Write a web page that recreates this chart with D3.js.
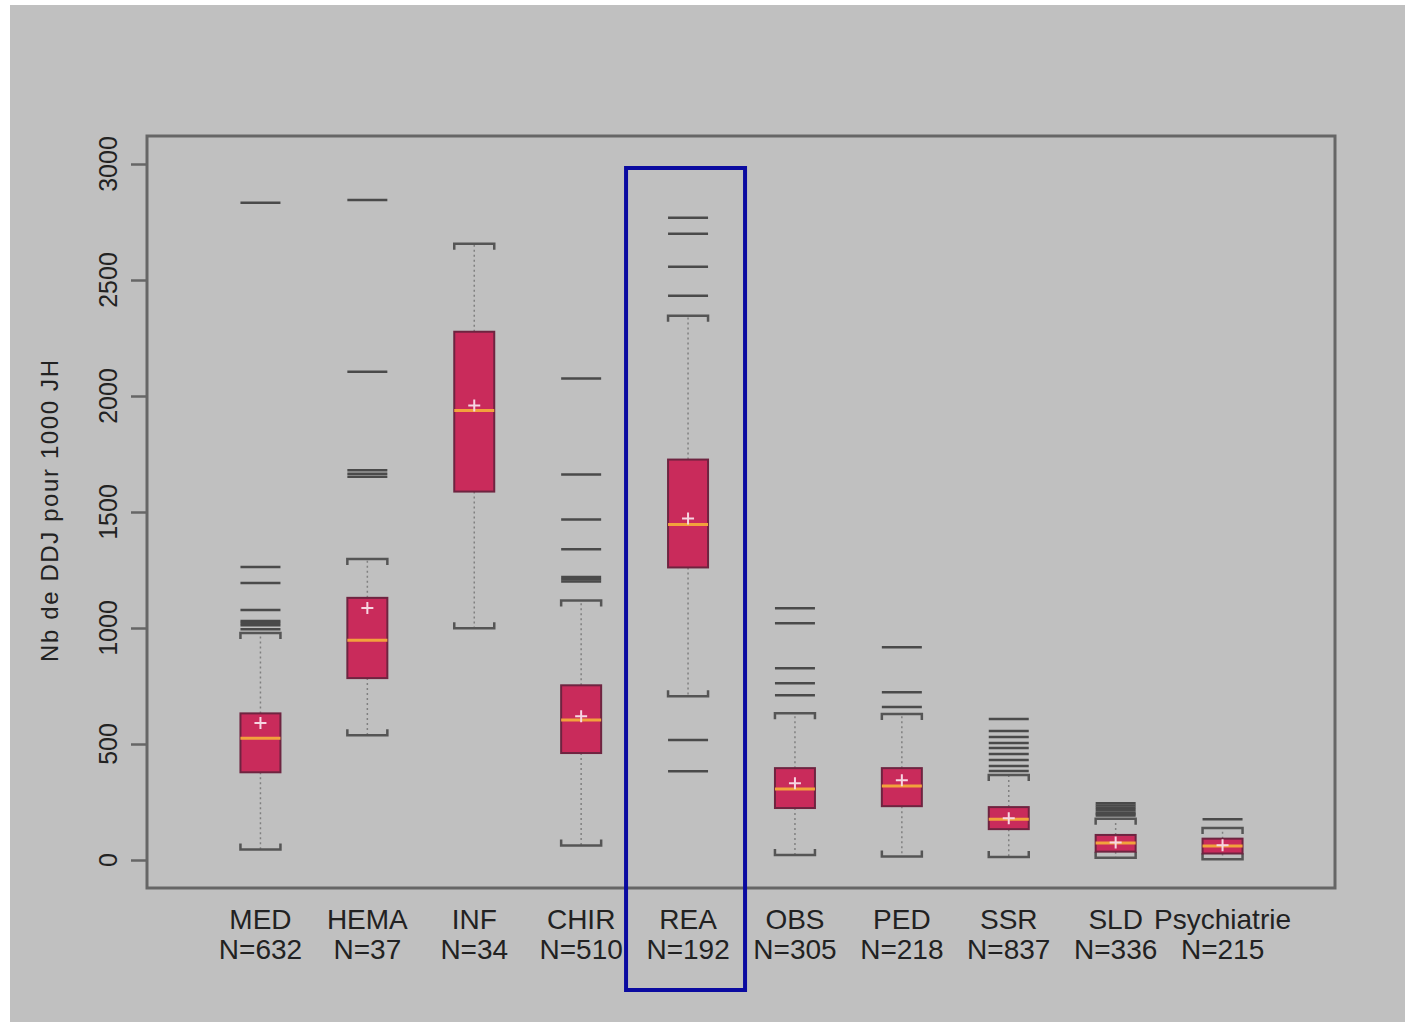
<!DOCTYPE html>
<html>
<head>
<meta charset="utf-8">
<script src="https://cdn.jsdelivr.net/npm/d3@7"></script>
<style>
  html, body { margin: 0; padding: 0; background: #ffffff; }
  svg { display: block; }
  text { font-family: "Liberation Sans", Arial, sans-serif; fill: #222; }
</style>
</head>
<body>
<svg id="chart" width="1405" height="1024"></svg>
<script>
// Antibiotic consumption per unit (DDJ per 1000 JH), one box per unit type
const categories = ["MED", "HEMA", "INF", "CHIR", "REA", "OBS", "PED", "SSR", "SLD", "Psychiatrie"];
const counts     = [632, 37, 34, 510, 192, 305, 218, 837, 336, 215];
const whiskerLow  = [45, 538, 999, 62, 706, 22, 15, 13, 10, 3];
const q1          = [378, 784, 1588, 461, 1261, 224, 232, 133, 36, 28];
const median      = [525, 947, 1937, 603, 1446, 306, 319, 176, 73, 60];
const mean        = [590, 1086, 1959, 620, 1472, 331, 344, 180, 75, 64];
const q3          = [632, 1130, 2277, 753, 1726, 396, 396, 228, 108, 92];
const whiskerHigh = [978, 1297, 2656, 1119, 2346, 633, 629, 366, 178, 138];
const outliers = [
  [2833, 1263, 1194, 1078, 1030, 1022, 1012, 995],
  [2845, 2105, 1680, 1665, 1652],
  [],
  [2075, 1662, 1468, 1339, 1220, 1210, 1200],
  [2768, 2699, 2557, 2432, 517, 383],
  [1085, 1020, 826, 762, 710],
  [917, 723, 659],
  [608, 556, 530, 504, 483, 457, 431, 405, 384],
  [245, 235, 225, 215, 205, 198, 192],
  [176]
];
const yTicks = [0, 500, 1000, 1500, 2000, 2500, 3000];
const yTitle = "Nb de DDJ pour 1000 JH";
const highlighted = "REA";

const svg = d3.select("#chart");

// page background
svg.append("rect").attr("x", 10).attr("y", 5).attr("width", 1395).attr("height", 1017)
  .attr("fill", "#c0c0c0");

const plot = { left: 147, right: 1335, top: 136, bottom: 888 };

const y = d3.scaleLinear().domain([0, 3000]).range([860, 164]);
const x = d3.scaleBand().domain(categories).range([207, 1276]).paddingInner(0.62).paddingOuter(0.31);
const bw = 40;
const cx = c => x(c) + x.bandwidth() / 2;

const rows = categories.map((c, i) => ({
  c, n: counts[i], lo: whiskerLow[i], q1: q1[i], med: median[i], mean: mean[i],
  q3: q3[i], hi: whiskerHigh[i], out: outliers[i]
}));

// y axis
const yAxis = d3.axisLeft(y).tickValues(yTicks).tickSize(16).tickSizeOuter(0).tickFormat("");
const ga = svg.append("g").attr("transform", `translate(${plot.left},0)`).call(yAxis);
ga.select(".domain").remove();
ga.selectAll(".tick line").attr("stroke", "#666").attr("stroke-width", 2.5);

svg.append("g").selectAll("text").data(yTicks).join("text")
  .attr("transform", d => `translate(117,${y(d)}) rotate(-90)`)
  .attr("text-anchor", "middle")
  .style("font-size", "25px")
  .text(d => d);

svg.append("text")
  .attr("transform", "translate(58,511) rotate(-90)")
  .attr("text-anchor", "middle")
  .style("font-size", "24px")
  .attr("textLength", 302)
  .text(yTitle);

const g = svg.append("g");

// whiskers
g.selectAll(".whisker").data(rows).join("g").each(function (d) {
  const s = d3.select(this), xc = cx(d.c);
  s.append("line").attr("x1", xc).attr("x2", xc).attr("y1", y(d.q3)).attr("y2", y(d.hi))
    .attr("stroke", "#808080").attr("stroke-width", 1.5).attr("stroke-dasharray", "2,3");
  s.append("line").attr("x1", xc).attr("x2", xc).attr("y1", y(d.q1)).attr("y2", y(d.lo))
    .attr("stroke", "#808080").attr("stroke-width", 1.5).attr("stroke-dasharray", "2,3");
  // bracket-shaped caps
  s.append("path")
    .attr("d", `M${xc - bw / 2},${y(d.hi) + 6}V${y(d.hi)}H${xc + bw / 2}V${y(d.hi) + 6}`)
    .attr("fill", "none").attr("stroke", "#555").attr("stroke-width", 2.5);
  s.append("path")
    .attr("d", `M${xc - bw / 2},${y(d.lo) - 6}V${y(d.lo)}H${xc + bw / 2}V${y(d.lo) - 6}`)
    .attr("fill", "none").attr("stroke", "#555").attr("stroke-width", 2.5);
});

// outliers as horizontal dashes
rows.forEach(d => {
  g.append("g").selectAll("line").data(d.out).join("line")
    .attr("x1", cx(d.c) - bw / 2).attr("x2", cx(d.c) + bw / 2)
    .attr("y1", v => y(v)).attr("y2", v => y(v))
    .attr("stroke", "#4a4a4a").attr("stroke-width", 2.5);
});

// boxes
g.selectAll(".box").data(rows).join("rect")
  .attr("x", d => cx(d.c) - bw / 2).attr("width", bw)
  .attr("y", d => y(d.q3)).attr("height", d => y(d.q1) - y(d.q3))
  .attr("fill", "#c92b5b").attr("stroke", "#6e2440").attr("stroke-width", 2);

// medians
g.selectAll(".med").data(rows).join("line")
  .attr("x1", d => cx(d.c) - bw / 2).attr("x2", d => cx(d.c) + bw / 2)
  .attr("y1", d => y(d.med)).attr("y2", d => y(d.med))
  .attr("stroke", "#f2a23c").attr("stroke-width", 3);

// means as plus signs
g.selectAll(".mean").data(rows).join("path")
  .attr("d", d => { const xc = cx(d.c), ym = y(d.mean); return `M${xc - 6},${ym}H${xc + 6}M${xc},${ym - 6}V${ym + 6}`; })
  .attr("stroke", "#f6d6e2").attr("stroke-width", 2);

// frame
svg.append("rect").attr("x", plot.left).attr("y", plot.top)
  .attr("width", plot.right - plot.left).attr("height", plot.bottom - plot.top)
  .attr("fill", "none").attr("stroke", "#666").attr("stroke-width", 3);

// category labels
const lab = svg.append("g").selectAll("g").data(rows).join("g")
  .attr("transform", d => `translate(${cx(d.c)},0)`);
lab.append("text").attr("y", 929).attr("text-anchor", "middle").style("font-size", "28px").text(d => d.c);
lab.append("text").attr("y", 959).attr("text-anchor", "middle").style("font-size", "28px").text(d => "N=" + d.n);

// highlight frame around one unit
const hx = cx(highlighted);
svg.append("rect").attr("x", hx - 62).attr("y", 168).attr("width", 119).attr("height", 822)
  .attr("fill", "none").attr("stroke", "#0a0aa0").attr("stroke-width", 4);
</script>
</body>
</html>
